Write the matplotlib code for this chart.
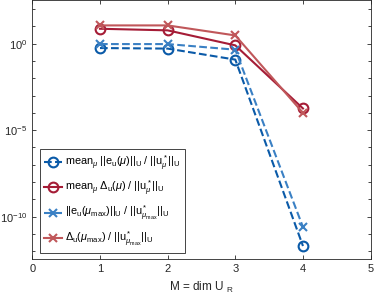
import matplotlib
matplotlib.use("Agg")
import matplotlib.pyplot as plt
import numpy as np
from matplotlib.ticker import LogLocator, NullFormatter

plt.rcParams["font.family"] = ["Liberation Sans", "DejaVu Sans"]
plt.rcParams["mathtext.fontset"] = "custom"
plt.rcParams["mathtext.rm"] = "Liberation Sans"
plt.rcParams["mathtext.it"] = "Liberation Sans:italic"
plt.rcParams["mathtext.default"] = "rm"

# data
M = [1, 2, 3, 4]
mean_err = [0.56, 0.52, 0.12, 2.0e-12]
mean_delta = [7.3, 5.9, 0.8, 1.8e-4]
max_err = [0.95, 0.95, 0.45, 2.5e-11]
max_delta = [11.4, 11.4, 3.0, 1.0e-4]

mu = r"\mathit{\mu}"
labels = [
    r"mean$_{%s}$ ||e$_u$($%s$)||$_U$ / ||u$^*_{%s}$||$_U$" % (mu, mu, mu),
    r"mean$_{%s}$ $\Delta_u$($%s$) / ||u$^*_{%s}$||$_U$" % (mu, mu, mu),
    r"||e$_u$($%s_{max}$)||$_U$ / ||u$^*_{%s_{max}}$||$_U$" % (mu, mu),
    r"$\Delta_u$($%s_{max}$) / ||u$^*_{%s_{max}}$||$_U$" % (mu, mu),
]

blue = "#0a5aa8"
blue_l = "#3a80c4"
red = "#a51c36"
red_l = "#c0575a"

fig = plt.figure(figsize=(3.74, 3.01), dpi=100)
ax = fig.add_axes([0.0864, 0.1395, 0.9046, 0.859])

ax.semilogy(M, mean_err, "--o", c=blue, lw=1.5, ms=7, mfc="none", mew=1.5, label=labels[0])
ax.semilogy(M, mean_delta, "-o", c=red, lw=1.5, ms=7, mfc="none", mew=1.5, label=labels[1])
ax.semilogy(M, max_err, "--x", c=blue_l, lw=1.5, ms=6, mew=1.5, label=labels[2])
ax.semilogy(M, max_delta, "-x", c=red_l, lw=1.5, ms=6, mew=1.5, label=labels[3])

ax.set_xlim(0, 5)
ax.set_ylim(10**-12.45, 10**2.5)
ax.set_xticks([0, 1, 2, 3, 4, 5])
ax.set_yticks([1e-10, 1e-5, 1e0])
ax.yaxis.set_minor_locator(LogLocator(base=10, subs=[1.0], numticks=30))
ax.yaxis.set_minor_formatter(NullFormatter())
ax.tick_params(which="both", direction="in", top=True, right=True, labelsize=8,
               colors="#262626", length=3, width=0.6)
ax.tick_params(which="minor", length=2)
for s in ax.spines.values():
    s.set_color("#262626")
    s.set_linewidth(0.6)

ax.set_xlabel(r"M = dim U $_R$", fontsize=8.5, color="#262626", labelpad=4)

leg = ax.legend(loc="lower left", bbox_to_anchor=(0.023, 0.023), borderaxespad=0,
                fontsize=7.8, handlelength=1.6, handletextpad=0.3, labelspacing=0.55,
                fancybox=False, framealpha=1, edgecolor="#262626", borderpad=0.4)
leg.get_frame().set_linewidth(0.6)

fig.savefig("out.png", dpi=100)
